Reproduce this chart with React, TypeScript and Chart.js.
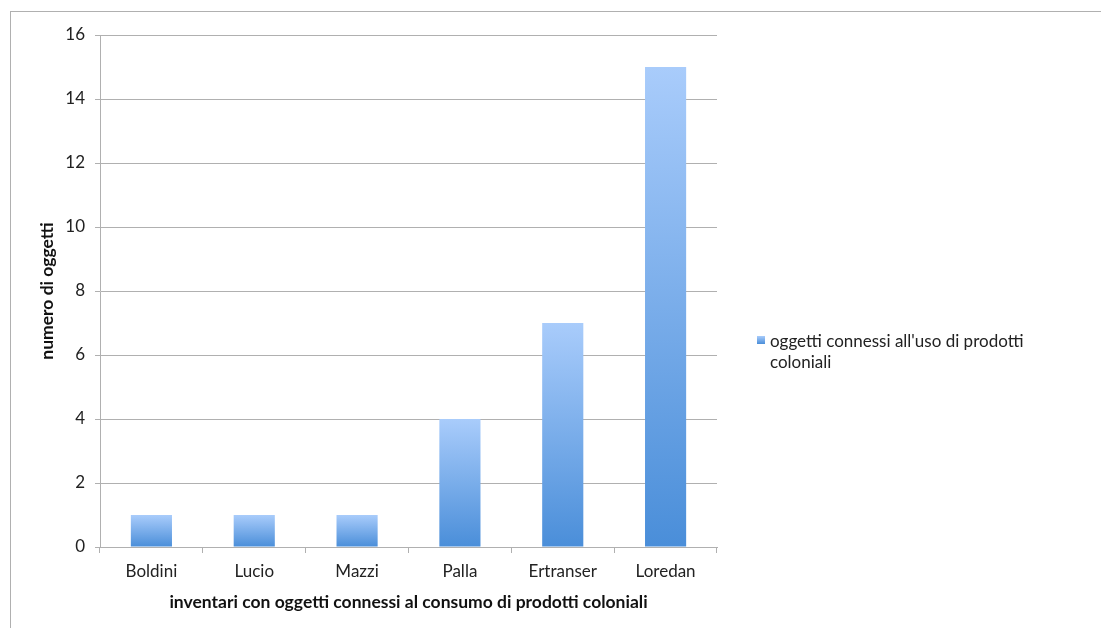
import React, { useEffect, useRef } from "react";
import { Chart, registerables } from "chart.js";

Chart.register(...registerables);

const categories = ["Boldini", "Lucio", "Mazzi", "Palla", "Ertranser", "Loredan"];
const values = [1, 1, 1, 4, 7, 15];
const seriesLabel = "oggetti connessi all'uso di prodotti coloniali";
const xTitle = "inventari con oggetti connessi al consumo di prodotti coloniali";
const yTitle = "numero di oggetti";

const FONT = "Lato, 'Open Sans', sans-serif";
const TOP_COLOR = "#a9ccfb";
const BOTTOM_COLOR = "#4a8ed9";
const GRID = "#b0b0b0";

export default function App() {
  const ref = useRef<HTMLCanvasElement>(null);
  useEffect(() => {
    if (!ref.current) return;
    const chart = new Chart(ref.current, {
      type: "bar",
      data: {
        labels: categories,
        datasets: [
          {
            label: seriesLabel,
            data: values,
            backgroundColor: (c: any) => {
              const ch = c.chart;
              const y = ch.scales && ch.scales.y;
              if (!ch.chartArea || !y || c.raw === undefined) return "#7aaee9";
              const top = y.getPixelForValue(c.raw);
              const base = y.getPixelForValue(0);
              const g = ch.ctx.createLinearGradient(0, top, 0, base);
              g.addColorStop(0, TOP_COLOR);
              g.addColorStop(1, BOTTOM_COLOR);
              return g;
            },
            borderWidth: 0,
            barPercentage: 0.8,
            categoryPercentage: 0.5,
          },
        ],
      },
      options: {
        animation: false,
        responsive: false,
        maintainAspectRatio: false,
        layout: { padding: { left: 0, right: 384, top: 35, bottom: 0 } },
        plugins: {
          legend: { display: false },
          tooltip: { enabled: false },
        },
        scales: {
          x: {
            grid: {
              offset: true,
              drawOnChartArea: false,
              drawTicks: true,
              tickLength: 6,
              color: GRID,
            },
            border: { color: GRID, width: 1 },
            ticks: { color: "#222", font: { family: FONT, size: 17 }, padding: 8 },
            title: {
              display: true,
              text: xTitle,
              color: "#111",
              font: { family: FONT, size: 17.5, weight: "bold" },
              padding: { top: 0, bottom: 15 },
            },
            afterFit: (s: any) => {
              s.height = 81;
            },
          },
          y: {
            min: 0,
            max: 16,
            ticks: { stepSize: 2, color: "#222", font: { family: FONT, size: 17 }, padding: 10 },
            grid: { color: GRID, lineWidth: 1, tickLength: 5 },
            border: { color: GRID, width: 1 },
            title: {
              display: true,
              text: yTitle,
              color: "#111",
              font: { family: FONT, size: 17.5, weight: "bold" },
              padding: { top: 37, bottom: 0 },
            },
            afterFit: (s: any) => {
              s.width = 100;
            },
          },
        },
      },
    });
    return () => chart.destroy();
  }, []);

  return (
    <div style={{ position: "absolute", left: 0, top: 0, width: 1101, height: 628, overflow: "hidden", background: "#fff" }}>
      <div
        style={{
          position: "absolute",
          left: 10,
          top: 11,
          width: 1200,
          height: 800,
          borderTop: "1px solid #b0b0b0",
          borderLeft: "1px solid #b0b0b0",
        }}
      />
      <canvas ref={ref} width={1101} height={628} style={{ position: "absolute", left: 0, top: 0 }} />
      <div
        style={{
          position: "absolute",
          left: 757,
          top: 330,
          width: 320,
          fontFamily: FONT,
          fontSize: 17,
          lineHeight: "21px",
          color: "#222",
        }}
      >
        <span
          style={{
            position: "absolute",
            left: 0,
            top: 6,
            width: 8,
            height: 8,
            background: `linear-gradient(${TOP_COLOR}, ${BOTTOM_COLOR})`,
          }}
        />
        <div style={{ marginLeft: 13, width: 290 }}>{seriesLabel}</div>
      </div>
    </div>
  );
}
